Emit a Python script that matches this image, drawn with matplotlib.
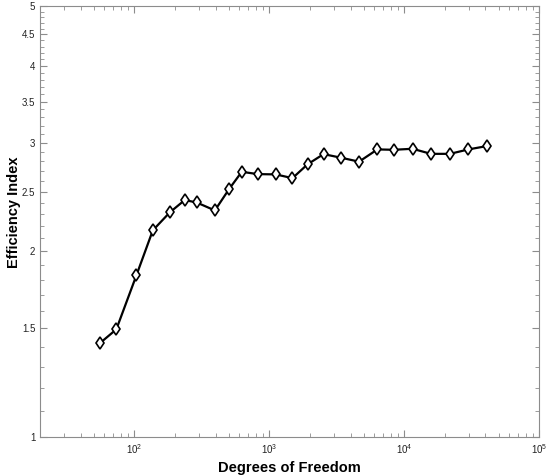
import matplotlib
matplotlib.use("Agg")
import matplotlib.pyplot as plt
from matplotlib.ticker import FixedLocator, FixedFormatter, LogLocator, LogFormatterMathtext, NullFormatter

plt.rcParams['font.family'] = ['Liberation Sans', 'DejaVu Sans']

# data
dof = [56, 73.5, 103.5, 137, 183, 236, 289, 395, 505, 625, 821, 1117,
       1485, 1920, 2524, 3418, 4627, 6327, 8372, 11535, 15780, 21830, 29900, 40740]
eff = [1.422, 1.495, 1.829, 2.164, 2.314, 2.423, 2.402, 2.331, 2.527, 2.693, 2.670, 2.667,
       2.630, 2.769, 2.877, 2.838, 2.797, 2.928, 2.924, 2.935, 2.880, 2.880, 2.928, 2.964]

y_ticks = [1, 1.5, 2, 2.5, 3, 3.5, 4, 4.5, 5]
y_labels = ['1', '1.5', '2', '2.5', '3', '3.5', '4', '4.5', '5']
y_minor = [round(1 + 0.1 * i, 1) for i in range(41)]

fig = plt.figure(figsize=(5.49, 4.76), dpi=100)
ax = fig.add_axes([0.073, 0.082, 0.909, 0.905])

ax.plot(dof, eff, color='black', linewidth=1.6, marker='d', markersize=6.5,
        markerfacecolor='white', markeredgecolor='black', markeredgewidth=1.2)

ax.set_xscale('log')
ax.set_yscale('log')
ax.set_xlim(20, 1e5)
ax.set_ylim(1, 5)

ax.xaxis.set_major_locator(LogLocator(base=10, numticks=10))
ax.xaxis.set_major_formatter(LogFormatterMathtext())
ax.xaxis.set_minor_locator(LogLocator(base=10, subs=range(2, 10), numticks=20))
ax.xaxis.set_minor_formatter(NullFormatter())

ax.yaxis.set_major_locator(FixedLocator(y_ticks))
ax.yaxis.set_major_formatter(FixedFormatter(y_labels))
ax.yaxis.set_minor_locator(FixedLocator(y_minor))
ax.yaxis.set_minor_formatter(NullFormatter())

gray = '#8c8c8c'
for s in ax.spines.values():
    s.set_color(gray)
    s.set_linewidth(0.8)
ax.tick_params(which='both', direction='in', top=True, right=True, color=gray,
               labelsize=7, labelcolor='#222222')
ax.tick_params(which='major', length=5)
ax.tick_params(which='minor', length=3)

ax.set_xlabel('Degrees of Freedom', fontsize=10.5, fontweight='bold', labelpad=4)
fig.text(14 / 549, 1 - 212 / 476, 'Efficiency Index', rotation=90, fontsize=10.5,
         fontweight='bold', ha='center', va='center')

fig.savefig('out.png', dpi=100)
